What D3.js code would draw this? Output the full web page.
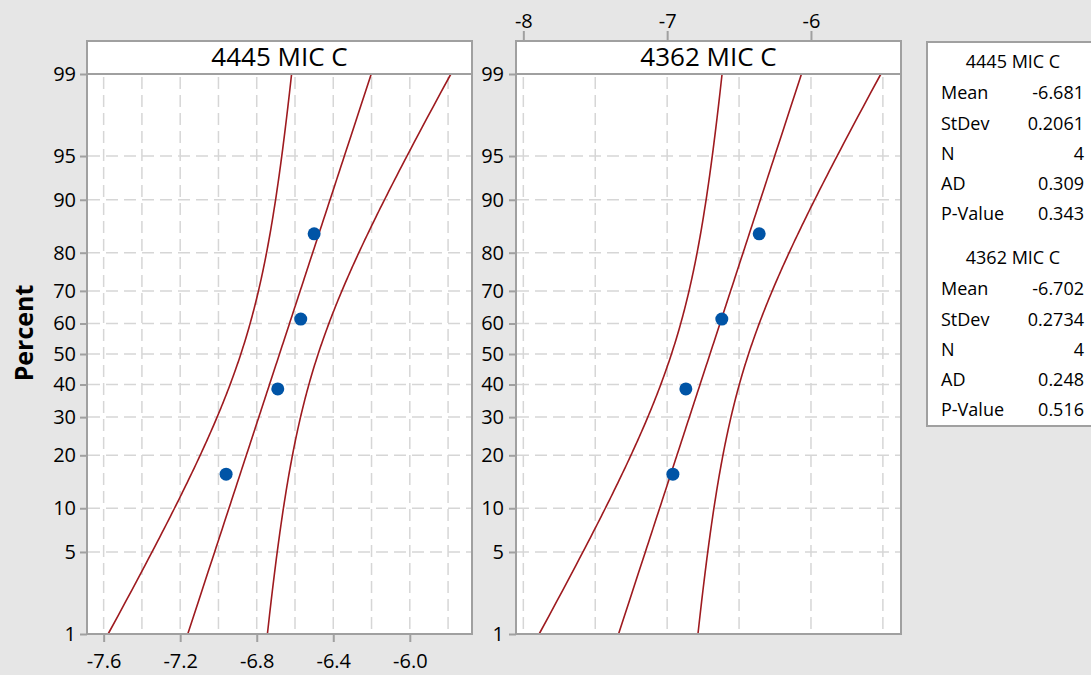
<!DOCTYPE html>
<html>
<head>
<meta charset="utf-8">
<script src="https://cdn.jsdelivr.net/npm/d3@7"></script>
<style>
  body { margin: 0; background: #e6e6e6; }
  text { font-family: "Open Sans", "Noto Sans", sans-serif; fill: #000; }
</style>
</head>
<body>
<div class="chart"></div>
<script>
// data
var panelNames = ["4445 MIC C", "4362 MIC C"]
var values4445 = [-6.96, -6.69, -6.57, -6.50]
var values4362 = [-6.96, -6.87, -6.62, -6.36]
var plotPercents = [15.9, 38.6, 61.4, 84.1]   // median-rank plotting positions
var percentTicks = [1, 5, 10, 20, 30, 40, 50, 60, 70, 80, 90, 95, 99]
var xTicks4445 = [-7.6, -7.2, -6.8, -6.4, -6.0]
var xGrid4445 = [-7.6, -7.4, -7.2, -7.0, -6.8, -6.6, -6.4, -6.2, -6.0, -5.8]
var xTicks4362 = [-8, -7, -6]
var xGrid4362 = [-8, -7.5, -7, -6.5, -6, -5.5]
var statLabels = ["Mean", "StDev", "N", "AD", "P-Value"]
var stats4445 = ["-6.681", "0.2061", "4", "0.309", "0.343"]
var stats4362 = ["-6.702", "0.2734", "4", "0.248", "0.516"]

// set the dimensions
var width = 1091
    height = 675
var boxTop = 41, plotTop = 74, plotBottom = 634, panelW = 385
var lineColor = "#9e1a1f", dotColor = "#0054a6", frameColor = "#a0a0a0", gridColor = "#d6d6d6"
var ciShape = 0.6   // weight of the sigma term in the percentile confidence band

// inverse normal cdf (Acklam)
function probit(p) {
  var a = [-3.969683028665376e+01, 2.209460984245205e+02, -2.759285104469687e+02, 1.383577518672690e+02, -3.066479806614716e+01, 2.506628277459239e+00]
  var b = [-5.447609879822406e+01, 1.615858368580409e+02, -1.556989798598866e+02, 6.680131188771972e+01, -1.328068155288572e+01]
  var c = [-7.784894002430293e-03, -3.223964580411365e-01, -2.400758277161838e+00, -2.549671324505936e+00, 4.374664141464968e+00, 2.938163982698783e+00]
  var d = [7.784695709041462e-03, 3.224671290700398e-01, 2.445134137142996e+00, 3.754408661907416e+00]
  var q, r
  if (p < 0.02425) {
    q = Math.sqrt(-2 * Math.log(p))
    return (((((c[0]*q+c[1])*q+c[2])*q+c[3])*q+c[4])*q+c[5]) / ((((d[0]*q+d[1])*q+d[2])*q+d[3])*q+1)
  } else if (p > 1 - 0.02425) {
    q = Math.sqrt(-2 * Math.log(1 - p))
    return -(((((c[0]*q+c[1])*q+c[2])*q+c[3])*q+c[4])*q+c[5]) / ((((d[0]*q+d[1])*q+d[2])*q+d[3])*q+1)
  }
  q = p - 0.5
  r = q * q
  return (((((a[0]*r+a[1])*r+a[2])*r+a[3])*r+a[4])*r+a[5])*q / (((((b[0]*r+b[1])*r+b[2])*r+b[3])*r+b[4])*r+1)
}

var svg = d3.select(".chart")
  .append("svg")
    .attr("width", width)
    .attr("height", height)

// percent axis on a normal probability scale
var y = d3.scaleLinear()
  .domain([probit(0.01), probit(0.99)])
  .range([plotBottom, plotTop])
function yp(pct) { return y(probit(pct / 100)) }

var fmt1 = function(d) { return d3.format(".1f")(d).replace("\u2212", "-") }
var fmt0 = function(d) { return d3.format("d")(d).replace("\u2212", "-") }

var panels = [
  { name: panelNames[0], values: values4445, stats: stats4445, left: 87, domain: [-7.687, -5.675],
    ticks: xTicks4445, grid: xGrid4445, fmt: fmt1, side: "bottom" },
  { name: panelNames[1], values: values4362, stats: stats4362, left: 516, domain: [-8.051, -5.374],
    ticks: xTicks4362, grid: xGrid4362, fmt: fmt0, side: "top" }
]

// z values used to trace the fitted line and its band from 1% to 99%
var zLine = d3.range(0, 201).map(function(i) { return probit(0.01 + 0.98 * i / 200) })

panels.forEach(function(p, k) {
  var x = d3.scaleLinear().domain(p.domain).range([p.left, p.left + panelW])
  var g = svg.append("g")

  // white panel with title strip
  g.append("rect")
    .attr("x", p.left).attr("y", boxTop).attr("width", panelW).attr("height", plotBottom - boxTop)
    .attr("fill", "white")

  // grid
  g.selectAll(".vgrid")
    .data(p.grid)
    .enter().append("line")
      .attr("x1", function(d) { return x(d) }).attr("x2", function(d) { return x(d) })
      .attr("y1", plotTop + 3).attr("y2", plotBottom - 1)
      .attr("stroke", gridColor).attr("stroke-width", 1.5).attr("stroke-dasharray", "12,6")
  g.selectAll(".hgrid")
    .data(percentTicks.slice(1, -1))
    .enter().append("line")
      .attr("x1", p.left + 1).attr("x2", p.left + panelW - 1)
      .attr("y1", function(d) { return yp(d) }).attr("y2", function(d) { return yp(d) })
      .attr("stroke", gridColor).attr("stroke-width", 1.5).attr("stroke-dasharray", "12,6")

  // fitted line and confidence band
  var mean = +p.stats[0], sd = +p.stats[1], n = +p.stats[2]
  var curves = [-1, 0, 1].map(function(s) {
    return zLine.map(function(z) {
      var se = sd / Math.sqrt(n) * Math.sqrt(1 + ciShape * z * z)
      return [mean + z * sd + s * 1.96 * se, z]
    })
  })
  var line = d3.line()
    .x(function(d) { return x(d[0]) })
    .y(function(d) { return y(d[1]) })
  g.selectAll(".fit")
    .data(curves)
    .enter().append("path")
      .attr("d", line)
      .attr("fill", "none")
      .attr("stroke", lineColor)
      .attr("stroke-width", 1.6)

  // points
  g.selectAll(".pt")
    .data(p.values)
    .enter().append("circle")
      .attr("cx", function(d) { return x(d) })
      .attr("cy", function(d, i) { return yp(plotPercents[i]) })
      .attr("r", 6.5)
      .attr("fill", dotColor)

  // frame
  g.append("rect")
    .attr("x", p.left).attr("y", boxTop).attr("width", panelW).attr("height", plotBottom - boxTop)
    .attr("fill", "none").attr("stroke", frameColor).attr("stroke-width", 2)
  g.append("line")
    .attr("x1", p.left).attr("x2", p.left + panelW).attr("y1", plotTop).attr("y2", plotTop)
    .attr("stroke", frameColor).attr("stroke-width", 2)

  g.append("text")
    .attr("x", p.left + panelW / 2).attr("y", 66)
    .attr("text-anchor", "middle")
    .style("font-size", "26px")
    .text(p.name)

  // y axis
  var ya = svg.append("g")
    .attr("transform", "translate(" + p.left + ",0)")
    .call(d3.axisLeft(y).tickValues(percentTicks.map(function(v) { return probit(v / 100) }))
      .tickSize(7).tickPadding(k == 0 ? 4 : 5)
      .tickFormat(function(d, i) { return percentTicks[i] }))
  // x axis
  var xa = svg.append("g")
  if (p.side == "bottom") {
    xa.attr("transform", "translate(0," + plotBottom + ")")
      .call(d3.axisBottom(x).tickValues(p.ticks).tickSize(8).tickPadding(12).tickFormat(p.fmt))
  } else {
    xa.attr("transform", "translate(0," + boxTop + ")")
      .call(d3.axisTop(x).tickValues(p.ticks).tickSize(10).tickPadding(3).tickFormat(p.fmt))
  }
  ;[ya, xa].forEach(function(a) {
    a.select(".domain").remove()
    a.selectAll(".tick line").attr("stroke", frameColor).attr("stroke-width", 2)
    a.selectAll(".tick text")
      .style("font-size", "20px")
      .style("font-family", "'Open Sans', sans-serif")
      .attr("fill", "#000")
  })
})

// y axis title
svg.append("text")
  .attr("transform", "translate(33,333) rotate(-90)")
  .attr("text-anchor", "middle")
  .style("font-size", "25px")
  .style("font-weight", "bold")
  .text("Percent")

// stats box
var legend = svg.append("g")
legend.append("rect")
  .attr("x", 927).attr("y", 42).attr("width", 200).attr("height", 384)
  .attr("fill", "white").attr("stroke", frameColor).attr("stroke-width", 2)

var groupTop = [62, 258]
panels.forEach(function(p, k) {
  legend.append("text")
    .attr("x", 1013).attr("y", groupTop[k])
    .attr("dy", "0.35em")
    .attr("text-anchor", "middle")
    .style("font-size", "18px")
    .text(p.name)
  statLabels.forEach(function(lab, i) {
    var yy = groupTop[k] + 31 + i * 30.2
    legend.append("text")
      .attr("x", 941).attr("y", yy).attr("dy", "0.35em")
      .style("font-size", "18px")
      .text(lab)
    legend.append("text")
      .attr("x", 1084).attr("y", yy).attr("dy", "0.35em")
      .attr("text-anchor", "end")
      .style("font-size", "18px")
      .text(p.stats[i])
  })
})
</script>
</body>
</html>
